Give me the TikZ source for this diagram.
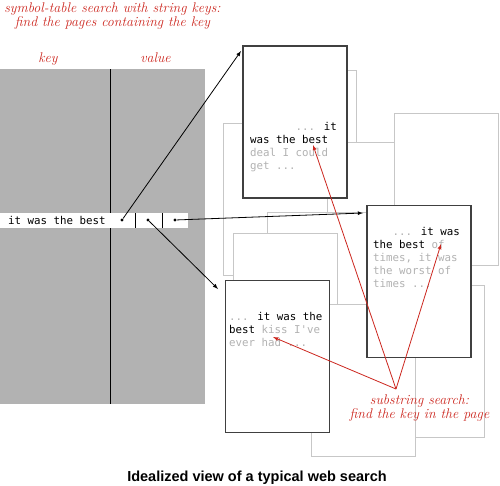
\documentclass[tikz,border=0pt]{standalone}
\usepackage{fontspec}
\newfontfamily\pagefont{DejaVu Sans Mono}
\newfontfamily\capfont{Liberation Sans}
\usetikzlibrary{positioning}
\definecolor{tablegray}{gray}{0.70}
\definecolor{sheetgray}{gray}{0.78}
\definecolor{textgray}{gray}{0.70}
\definecolor{searchred}{RGB}{204,38,30}
\newcommand{\faded}[1]{\textcolor{textgray}{#1}}

\begin{document}
\begin{tikzpicture}[x=1pt, y=-1pt, >=latex,
	sheet/.style ={draw=sheetgray, fill=white, line width=0.9pt,
		minimum width=104pt, minimum height=152pt, inner sep=0pt},
	page/.style ={sheet, draw=black!75, line width=1.1pt},
	words/.style ={font=\pagefont\fontsize{10.8}{13}\selectfont,
		align=left, anchor=base west, inner sep=0pt},
	note/.style ={text=searchred, font=\itshape\fontsize{14}{12.3}\selectfont,
		align=center, inner sep=0pt, anchor=base},
	dot/.style ={circle, fill=black, inner sep=0pt, minimum size=3.4pt},
	ptr/.style ={->, line width=0.8pt},
	hit/.style ={->, searchred, line width=0.8pt}]
	\useasboundingbox (0,0) rectangle (500,485);
	% symbol table
	\node[fill=tablegray, minimum width=205pt, minimum height=335pt,
		inner sep=0pt, anchor=north west] (table) at (0,69) {};
	\draw[line width=0.9pt] (110,69) coordinate (split) -- (split |- table.south);
	\node[fill=white, minimum width=188pt, minimum height=15pt,
		inner sep=0pt, anchor=west] (entry) at (0,220.5) {};
	\draw[line width=0.9pt] (135,213) -- (135,228) (162,213) -- (162,228);
	\node[words] (keytext) at (8,224) {it was the best};
	\node[dot] (v1) at (122,220) {};
	\node[dot] (v2) at (148,220) {};
	\node[dot] (v3) at (175,220) {};
	\node[note] (keylabel) at (48,62.5) {key};
	\node[note] (valuelabel) at (155.5,62.5) {value};
	\node[note] (tabletitle) at (112.5,26.5)
		{symbol-table search with string keys:\\find the pages containing the key};
	% pages in the back
	\node[sheet] (g1) at (304,146) {};
	\node[sheet] (g2) at (379,218) {};
	\node[sheet] (g3) at (446,189) {};
	\node[sheet] (g4) at (275,199) {};
	\node[sheet] (g5) at (319,288) {};
	\node[sheet] (g6) at (285.5,309) {};
	\node[sheet] (g7) at (432,361.5) {};
	\node[sheet] (g8) at (363.5,380) {};
	% pages that contain the key
	\node[page] (p1) at (295,122) {};
	\node[page] (p2) at (419,281.5) {};
	\node[page] (p3) at (277.5,356.5) {};
	\node[words] (t1) at (250,169)
		{\phantom{0000000}\faded{...} it\\was the best\\\faded{deal I could}\\\faded{get ...}};
	\node[words] (t2) at (373,287)
		{\phantom{000}\faded{...} it was\\the best \faded{of}\\\faded{times, it was}\\
		\faded{the worst of}\\\faded{times ...}};
	\node[words] (t3) at (229,346)
		{\faded{...} it was the\\best \faded{kiss I\textquotesingle{}ve}\\\faded{ever had ...}};
	% values point at the pages
	\coordinate (e1) at (241,51);
	\coordinate (e2) at (363,213);
	\coordinate (e3) at (218,289);
	\draw[ptr] (v1) -- (e1);
	\draw[ptr] (v2) -- (e3);
	\draw[ptr] (v3) -- (e2);
	% substring search
	\coordinate (apex) at (396,389);
	\coordinate (k1) at (313,145);
	\coordinate (k2) at (441,244);
	\coordinate (k3) at (273,337);
	\draw[hit] (apex) -- (k1);
	\draw[hit] (apex) -- (k2);
	\draw[hit] (apex) -- (k3);
	\node[note, font=\itshape\fontsize{14}{14.3}\selectfont] (searchnote)
		at (419.5,418.3) {substring search:\\find the key in the page};
	\node[font=\capfont\bfseries\fontsize{14.5}{16}\selectfont, anchor=base] (caption)
		at (257,481) {Idealized view of a typical web search};
\end{tikzpicture}
\end{document}
